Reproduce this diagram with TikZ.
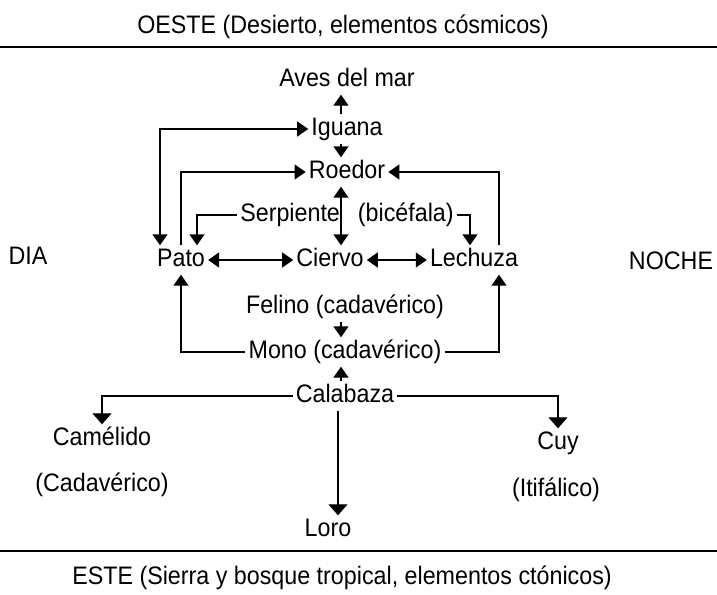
\documentclass[tikz,border=0pt]{standalone}
\usepackage{fontspec}
\setmainfont[FakeStretch=0.92]{Liberation Sans}
\usetikzlibrary{arrows.meta, positioning}
\tikzstyle{word} = [inner sep=3pt, text height=18pt, text depth=5pt, font=\fontsize{25.3}{28}\selectfont]
\tikzstyle{arrow} = [line width=1.4pt, -{Triangle[length=11pt, width=15pt]}]
\tikzstyle{twoway} = [line width=1.4pt, {Triangle[length=11pt, width=15pt]}-{Triangle[length=11pt, width=15pt]}]
\tikzstyle{droparrow} = [line width=1.1pt, -{Triangle[length=11pt, width=19pt]}]
\tikzstyle{rule} = [line width=1.8pt]

\begin{document}
\begin{tikzpicture}[x=1pt, y=-1pt]
    \useasboundingbox (0,0) rectangle (717,594);
    % bands
    \node[word] (oeste) at (343,27) {OESTE (Desierto, elementos cósmicos)};
    \node[word] (este) at (342,578) {ESTE (Sierra y bosque tropical, elementos ctónicos)};
    \coordinate (topleft) at (0,47);
    \coordinate (topright) at (717,47);
    \coordinate (botleft) at (0,551);
    \coordinate (botright) at (717,551);
    \draw[rule] (topleft) -- (topright);
    \draw[rule] (botleft) -- (botright);

    % columns for the connectors
    \coordinate (spine) at (341,0);
    \coordinate (farleft) at (160,0);
    \coordinate (nearleft) at (181,0);
    \coordinate (serpleft) at (197,0);
    \coordinate (serpright) at (470,0);
    \coordinate (farright) at (499,0);
    \coordinate (loroline) at (338,0);

    \node[word] (aves) at (347,80) {Aves del mar};
    \node[word] (iguana) at (347,129) {Iguana};
    \node[word] (roedor) at (347,172) {Roedor};
    \node[word] (serpiente) at (347,215) {Serpiente\hspace{18pt}(bicéfala)};
    \node[word] (dia) at (28,258) {DIA};
    \node[word] (pato) at (181,260) {Pato};
    \node[word] (ciervo) at (330,260) {Ciervo};
    \node[word] (lechuza) at (474,260) {Lechuza};
    \node[word] (noche) at (671,263) {NOCHE};
    \node[word] (felino) at (345,307) {Felino (cadavérico)};
    \node[word] (mono) at (345,352) {Mono (cadavérico)};
    \node[word] (calabaza) at (345,396) {Calabaza};
    \node[word] (camelido) at (102,439) {Camélido};
    \node[word] (cadaverico) at (102,485) {(Cadavérico)};
    \node[word] (cuy) at (558,443) {Cuy};
    \node[word] (itifalico) at (556,490) {(Itifálico)};
    \node[word] (loro) at (328,530) {Loro};

    \draw[arrow] (iguana.north -| spine) -- (aves.south -| spine);
    \draw[arrow] (iguana.south -| spine) -- (roedor.north -| spine);
    \draw[twoway] (roedor.south -| spine) -- (ciervo.north -| spine);
    \draw[twoway] (pato) -- (ciervo);
    \draw[twoway] (ciervo) -- (lechuza);
    \draw[twoway] (iguana.west) -| (pato.north -| farleft);
    \draw[arrow] (pato.north -| nearleft) |- (roedor.west);
    \draw[arrow] (serpiente.west) -| (pato.north -| serpleft);
    \draw[arrow] (serpiente.east) -| (lechuza.north -| serpright);
    \draw[arrow] (lechuza.north -| farright) |- (roedor.east);
    \draw[arrow] (felino.south -| spine) -- (mono.north -| spine);
    \draw[arrow] (mono.west) -| (pato.south -| nearleft);
    \draw[arrow] (mono.east) -| (lechuza.south -| farright);
    \draw[arrow] (calabaza.north -| spine) -- (mono.south -| spine);
    \draw[droparrow] (calabaza.west) -| (camelido.north);
    \draw[droparrow] (calabaza.east) -| (cuy.north);
    \draw[droparrow] (calabaza.south -| loroline) -- (loro.north -| loroline);
\end{tikzpicture}
\end{document}
